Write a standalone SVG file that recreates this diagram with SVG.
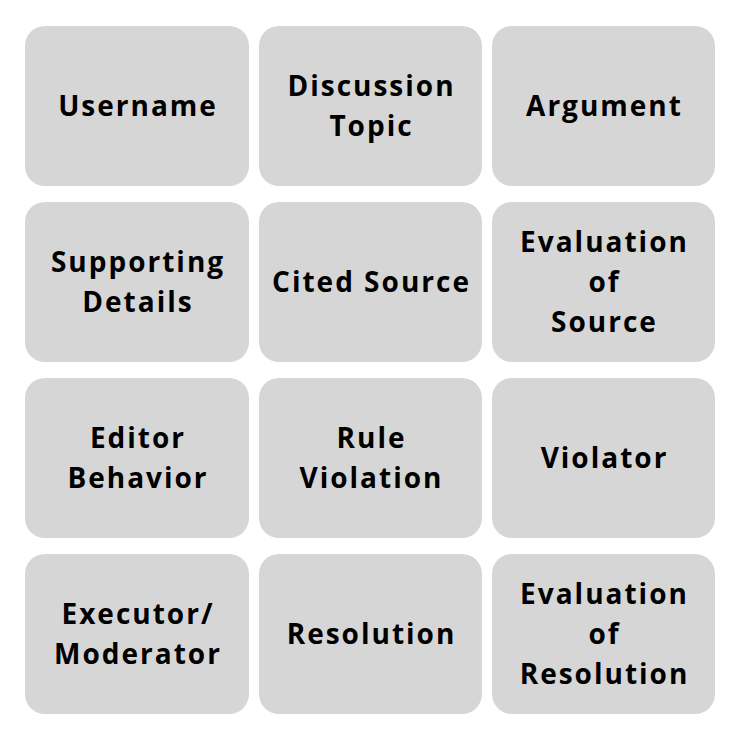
<svg xmlns="http://www.w3.org/2000/svg" width="740" height="740" viewBox="0 0 740 740">
<style>
.box{fill:#d6d6d6;}
.t{font-family:"Open Sans","Lato","Liberation Sans",sans-serif;font-weight:bold;font-size:28px;letter-spacing:2px;fill:#000;text-anchor:middle;}
</style>
<rect width="740" height="740" fill="#ffffff"/>
<g id="n1"><rect class="box" x="25" y="26" width="224" height="160" rx="20"/><text class="t" x="138" y="116">Username</text></g>
<g id="n2"><rect class="box" x="259" y="26" width="223" height="160" rx="20"/><text class="t" x="371.5" y="96">Discussion</text><text class="t" x="371.5" y="136">Topic</text></g>
<g id="n3"><rect class="box" x="492" y="26" width="223" height="160" rx="20"/><text class="t" x="604.5" y="116">Argument</text></g>
<g id="n4"><rect class="box" x="25" y="202" width="224" height="160" rx="20"/><text class="t" x="138" y="272">Supporting</text><text class="t" x="138" y="312">Details</text></g>
<g id="n5"><rect class="box" x="259" y="202" width="223" height="160" rx="20"/><text class="t" x="371.5" y="292">Cited Source</text></g>
<g id="n6"><rect class="box" x="492" y="202" width="223" height="160" rx="20"/><text class="t" x="604.5" y="252">Evaluation</text><text class="t" x="604.5" y="292">of</text><text class="t" x="604.5" y="332">Source</text></g>
<g id="n7"><rect class="box" x="25" y="378" width="224" height="160" rx="20"/><text class="t" x="138" y="448">Editor</text><text class="t" x="138" y="488">Behavior</text></g>
<g id="n8"><rect class="box" x="259" y="378" width="223" height="160" rx="20"/><text class="t" x="371.5" y="448">Rule</text><text class="t" x="371.5" y="488">Violation</text></g>
<g id="n9"><rect class="box" x="492" y="378" width="223" height="160" rx="20"/><text class="t" x="604.5" y="468">Violator</text></g>
<g id="n10"><rect class="box" x="25" y="554" width="224" height="160" rx="20"/><text class="t" x="138" y="624">Executor/</text><text class="t" x="138" y="664">Moderator</text></g>
<g id="n11"><rect class="box" x="259" y="554" width="223" height="160" rx="20"/><text class="t" x="371.5" y="644">Resolution</text></g>
<g id="n12"><rect class="box" x="492" y="554" width="223" height="160" rx="20"/><text class="t" x="604.5" y="604">Evaluation</text><text class="t" x="604.5" y="644">of</text><text class="t" x="604.5" y="684">Resolution</text></g>
<g id="connectors"></g>
</svg>
